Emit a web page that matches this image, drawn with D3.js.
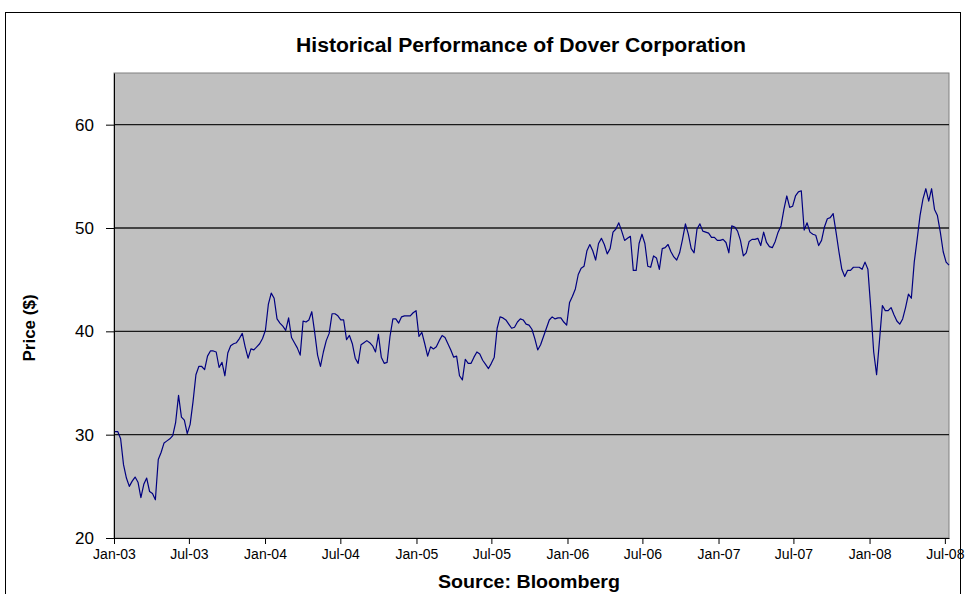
<!DOCTYPE html>
<html>
<head>
<meta charset="utf-8">
<script src="https://cdn.jsdelivr.net/npm/d3@7"></script>
<style>
  body { margin: 0; background: #fff; }
  text { font-family: Arial, "Liberation Sans", sans-serif; }
</style>
</head>
<body>
<div id="chart"></div>
<script>
const colors = {
  bg: "#ffffff",
  plot: "#c0c0c0",     // excel silver
  grid: "#1a1a1a",
  line: "#000080",     // navy
  text: "#000000"
};

// weekly closes, first week ending 3 Jan 2003
const startDate = "2003-01-03";
const prices = [
  30.3, 30.3, 29.6, 27.1, 25.8, 25.0, 25.5, 25.9, 25.4, 23.9,
  25.2, 25.8, 24.5, 24.3, 23.7, 27.6, 28.3, 29.2, 29.4, 29.6,
  29.9, 31.2, 33.8, 31.7, 31.4, 30.1, 31.0, 33.2, 35.8, 36.6,
  36.6, 36.3, 37.6, 38.1, 38.1, 38.0, 36.5, 37.0, 35.7, 37.9,
  38.6, 38.8, 38.9, 39.3, 39.8, 38.5, 37.4, 38.3, 38.2, 38.5,
  38.8, 39.3, 40.1, 42.6, 43.7, 43.2, 41.2, 40.8, 40.5, 40.1,
  41.3, 39.4, 38.9, 38.4, 37.7, 41.0, 40.9, 41.1, 41.9, 39.9,
  37.7, 36.6, 38.0, 39.1, 39.8, 41.7, 41.7, 41.5, 41.1, 41.1,
  39.2, 39.6, 38.8, 37.4, 36.9, 38.7, 38.9, 39.1, 38.9, 38.6,
  38.0, 39.7, 37.5, 36.9, 37.0, 39.5, 41.2, 41.2, 40.8, 41.4,
  41.5, 41.5, 41.5, 41.8, 42.0, 39.5, 39.9, 38.8, 37.6, 38.5,
  38.3, 38.5, 39.1, 39.6, 39.4, 38.8, 38.2, 37.5, 37.6, 35.7,
  35.3, 37.3, 36.9, 36.9, 37.5, 38.0, 37.8, 37.2, 36.8, 36.4,
  36.9, 37.5, 40.3, 41.4, 41.3, 41.1, 40.7, 40.3, 40.4, 40.9,
  41.2, 41.1, 40.7, 40.6, 40.2, 39.3, 38.2, 38.7, 39.5, 40.3,
  41.1, 41.4, 41.2, 41.3, 41.3, 40.9, 40.6, 42.8, 43.4, 44.1,
  45.5, 46.1, 46.3, 47.8, 48.4, 47.8, 46.9, 48.5, 49.0, 48.4,
  47.5, 48.0, 49.6, 49.9, 50.5, 49.7, 48.8, 49.0, 49.2, 45.9,
  45.9, 48.5, 49.4, 48.5, 46.3, 46.2, 47.3, 47.1, 46.0, 48.0,
  48.1, 48.4, 47.7, 47.2, 46.9, 47.6, 48.9, 50.4, 49.4, 48.0,
  47.6, 49.9, 50.4, 49.7, 49.6, 49.5, 49.1, 49.1, 48.8, 48.8,
  48.9, 48.6, 47.6, 50.2, 50.1, 49.7, 48.8, 47.3, 47.6, 48.7,
  48.9, 48.9, 49.0, 48.3, 49.6, 48.6, 48.2, 48.1, 48.7, 49.6,
  50.2, 51.8, 53.1, 52.0, 52.1, 53.1, 53.5, 53.6, 49.8, 50.5,
  49.6, 49.4, 49.3, 48.3, 48.8, 50.1, 50.9, 51.0, 51.4, 49.6,
  47.7, 46.0, 45.3, 45.9, 45.9, 46.2, 46.2, 46.2, 46.0, 46.7,
  46.0, 42.2, 38.0, 35.8, 39.1, 42.5, 42.0, 42.0, 42.3, 41.6,
  41.0, 40.7, 41.2, 42.3, 43.6, 43.2, 46.7, 48.9, 51.2, 52.8,
  53.8, 52.6, 53.8, 51.8, 51.2, 49.6, 47.7, 46.7, 46.4
];

const xTicks = ["2003-01-01", "2003-07-01", "2004-01-01", "2004-07-01", "2005-01-01",
  "2005-07-01", "2006-01-01", "2006-07-01", "2007-01-01", "2007-07-01",
  "2008-01-01", "2008-07-01"];
const yTicks = [20, 30, 40, 50, 60];

const parse = d3.timeParse("%Y-%m-%d");
const t0 = parse(startDate);
const data = prices.map((p, i) => ({ date: d3.timeDay.offset(t0, i * 7), price: p }));

// dimensions
const W = 968, H = 594;
const margin = { top: 73, right: 19, bottom: 56, left: 114 };
const width = W - margin.left - margin.right;
const height = H - margin.top - margin.bottom;

const root = d3.select("#chart").append("svg")
  .attr("width", W)
  .attr("height", H);

// chart area frame
root.append("rect")
  .attr("x", 5.5).attr("y", 12.5)
  .attr("width", 955).attr("height", 640)
  .attr("fill", colors.bg)
  .attr("stroke", "#000").attr("stroke-width", 1);

const svg = root.append("g")
  .attr("transform", `translate(${margin.left},${margin.top})`);

const x = d3.scaleTime()
  .domain([parse("2003-01-01"), data[data.length - 1].date])
  .range([0, width]);

const y = d3.scaleLinear()
  .domain([20, 65])
  .range([height, 0]);

// plot area
svg.append("rect")
  .attr("width", width).attr("height", height)
  .attr("fill", colors.plot)
  .attr("stroke", "#808080").attr("stroke-width", 1);

// gridlines
svg.append("g")
  .selectAll("line")
  .data(yTicks.slice(1))
  .join("line")
  .attr("x1", 0).attr("x2", width)
  .attr("y1", d => y(d)).attr("y2", d => y(d))
  .attr("stroke", colors.grid)
  .attr("stroke-width", 1.3);

// axes
svg.append("g")
  .call(d3.axisLeft(y).tickValues(yTicks).tickSize(8).tickSizeOuter(0).tickPadding(12))
  .call(g => g.select(".domain").attr("stroke", "#000"))
  .call(g => g.selectAll("text")
    .style("font-size", "17px")
    .attr("fill", colors.text));

svg.append("g")
  .attr("transform", `translate(0,${height})`)
  .call(d3.axisBottom(x).tickValues(xTicks.map(parse))
    .tickFormat(d3.timeFormat("%b-%y")).tickSize(6).tickSizeOuter(0).tickPadding(5))
  .call(g => g.select(".domain").attr("stroke", "#000"))
  .call(g => g.selectAll("text")
    .style("font-size", "14px")
    .attr("fill", colors.text));

// price line
svg.append("path")
  .datum(data)
  .attr("fill", "none")
  .attr("stroke", colors.line)
  .attr("stroke-width", 1.2)
  .attr("stroke-linejoin", "round")
  .attr("d", d3.line().x(d => x(d.date)).y(d => y(d.price)));

// title
root.append("text")
  .attr("x", 521).attr("y", 52)
  .attr("text-anchor", "middle")
  .attr("textLength", 450)
  .attr("lengthAdjust", "spacingAndGlyphs")
  .style("font-size", "20px")
  .style("font-weight", "bold")
  .text("Historical Performance of Dover Corporation");

// y label
root.append("text")
  .attr("transform", "translate(35,328) rotate(-90)")
  .attr("text-anchor", "middle")
  .style("font-size", "17px")
  .style("font-weight", "bold")
  .text("Price ($)");

// source
root.append("text")
  .attr("x", 529).attr("y", 588)
  .attr("text-anchor", "middle")
  .attr("textLength", 182)
  .attr("lengthAdjust", "spacingAndGlyphs")
  .style("font-size", "18px")
  .style("font-weight", "bold")
  .text("Source: Bloomberg");
</script>
</body>
</html>
